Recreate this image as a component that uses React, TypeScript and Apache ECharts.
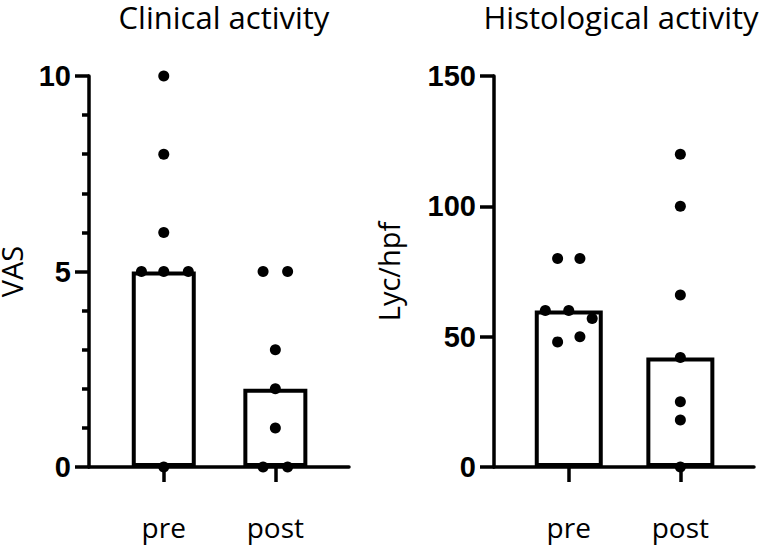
import React, { useEffect, useRef } from "react";
import * as echarts from "echarts";

const categories = ["pre", "post"];
const titles = ["Clinical activity", "Histological activity"];
const yNames = ["VAS", "Lyc/hpf"];

const clinicalMedian = [5, 2];
const clinicalPre = [10, 8, 6, 5, 5, 5, 0];
const clinicalPreJitter = [0, 0, 0, -0.2, 0, 0.22, 0];
const clinicalPost = [5, 5, 3, 2, 1, 0, 0];
const clinicalPostJitter = [-0.11, 0.11, 0, 0, 0, -0.11, 0.11];

const histoMedian = [60, 42];
const histoPre = [80, 80, 60, 60, 57, 48, 50];
const histoPreJitter = [-0.1, 0.1, -0.21, 0, 0.21, -0.1, 0.1];
const histoPost = [120, 100, 66, 42, 25, 18, 0];
const histoPostJitter = [0, 0, 0, 0, 0, 0, 0];

const clinicalTicks = { min: 0, max: 10, interval: 5 };
const histoTicks = { min: 0, max: 150, interval: 50 };

function points(vals: number[], jit: number[], idx: number) {
  return vals.map((v, i) => [idx + jit[i], v]);
}

export default function App() {
  const ref = useRef<HTMLDivElement>(null);
  useEffect(() => {
    document.body.style.margin = "0";
    const chart = echarts.init(ref.current!, null, { renderer: "svg" });
    const black = "#000";
    const lw = 3.5;
    const makeX = (gi: number) => ({
      type: "value",
      gridIndex: gi,
      min: -0.67,
      max: 1.66,
      axisLine: { show: true, onZero: false, lineStyle: { color: black, width: lw } },
      axisTick: { show: true, customValues: [0, 1], length: 15, lineStyle: { color: black, width: lw } },
      axisLabel: {
        customValues: [0, 1],
        formatter: (v: number) => categories[Math.round(v)] ?? "",
        fontSize: 28,
        fontFamily: "Open Sans",
        color: black,
        margin: 46,
      },
      splitLine: { show: false },
    });
    const makeY = (gi: number, t: any, name: string, gap: number, minor: boolean) => ({
      type: "value",
      gridIndex: gi,
      min: t.min,
      max: t.max,
      interval: t.interval,
      name,
      nameLocation: "middle",
      nameGap: gap,
      nameTextStyle: { fontSize: 29, fontFamily: "Open Sans", color: black, lineHeight: 29 },
      axisLine: { show: true, onZero: false, lineStyle: { color: black, width: lw } },
      axisTick: { show: true, length: 14, lineStyle: { color: black, width: lw } },
      minorTick: { show: minor, splitNumber: 5, length: 7, lineStyle: { color: black, width: lw } },
      axisLabel: {
        fontSize: 29,
        fontWeight: "bold",
        fontFamily: "Liberation Sans, Arial",
        color: black,
        margin: 18,
      },
      splitLine: { show: false },
      minorSplitLine: { show: false },
    });
    const barStyle = { color: "#fff", borderColor: black, borderWidth: 4 };
    const dotStyle = { color: black, opacity: 1 };
    const titleStyle = {
      fontSize: 31,
      lineHeight: 30,
      fontWeight: "normal",
      fontFamily: "Open Sans",
      color: black,
    };
    const option: any = {
      animation: false,
      backgroundColor: "#fff",
      title: [
        { text: titles[0], left: 224, top: 2, padding: 0, textAlign: "center", textStyle: titleStyle },
        { text: titles[1], left: 621, top: 2, padding: 0, textAlign: "center", textStyle: titleStyle },
      ],
      grid: [
        { left: 89, width: 260, top: 76, height: 391, outerBoundsMode: "none", containLabel: false },
        { left: 494, width: 260, top: 76, height: 391, outerBoundsMode: "none", containLabel: false },
      ],
      xAxis: [makeX(0), makeX(1)],
      yAxis: [
        makeY(0, clinicalTicks, yNames[0], 63, true),
        makeY(1, histoTicks, yNames[1], 91, false),
      ],
      series: [
        {
          type: "bar",
          xAxisIndex: 0,
          yAxisIndex: 0,
          barWidth: 64,
          data: clinicalMedian.map((v, i) => [i, v]),
          itemStyle: barStyle,
        },
        {
          type: "bar",
          xAxisIndex: 1,
          yAxisIndex: 1,
          barWidth: 68,
          data: histoMedian.map((v, i) => [i, v]),
          itemStyle: barStyle,
        },
        {
          type: "scatter",
          xAxisIndex: 0,
          yAxisIndex: 0,
          symbolSize: 11,
          itemStyle: dotStyle,
          data: [...points(clinicalPre, clinicalPreJitter, 0), ...points(clinicalPost, clinicalPostJitter, 1)],
        },
        {
          type: "scatter",
          xAxisIndex: 1,
          yAxisIndex: 1,
          symbolSize: 11,
          itemStyle: dotStyle,
          data: [...points(histoPre, histoPreJitter, 0), ...points(histoPost, histoPostJitter, 1)],
        },
      ],
    };
    chart.setOption(option);
    return () => chart.dispose();
  }, []);
  return (
    <div
      ref={ref}
      style={{ position: "fixed", left: 0, top: 0, width: 767, height: 547, background: "#fff" }}
    />
  );
}
